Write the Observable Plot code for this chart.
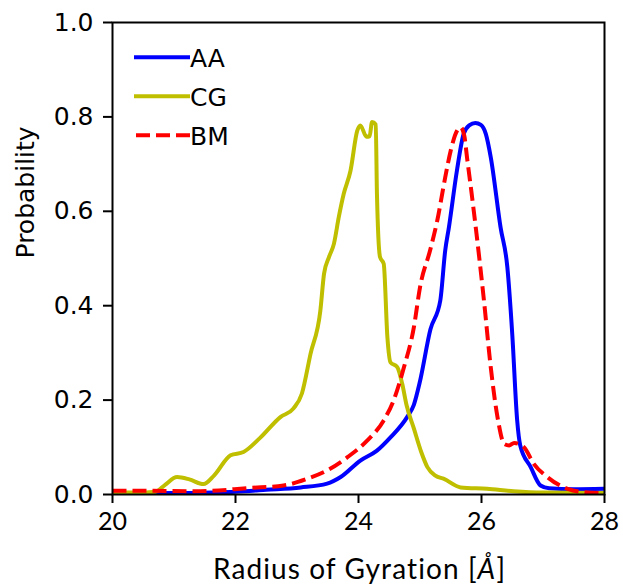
<!DOCTYPE html>
<html>
<head>
<meta charset="utf-8">
<script src="https://cdn.jsdelivr.net/npm/d3@7"></script>
<script src="https://cdn.jsdelivr.net/npm/@observablehq/plot@0.6"></script>
<style>
  html, body { margin: 0; padding: 0; background: white; }
</style>
</head>
<body>
<div id="chart"></div>
<script>
const xTicks = [20, 22, 24, 26, 28];
const yTicks = [0, 0.2, 0.4, 0.6, 0.8, 1.0];
const seriesNames = ["AA", "CG", "BM"];
const seriesColors = ["#0000ff", "#bfbf00", "#ff0000"];
const xLabel = "Radius of Gyration [Å]";
const yLabel = "Probability";

const aaX = [20, 21, 22, 22.5, 23.06, 23.49, 23.71, 24.03, 24.30, 24.52, 24.79, 24.9, 25.0, 25.17, 25.33, 25.41, 25.47, 25.60, 25.71, 25.80, 25.90, 25.99, 26.07, 26.15, 26.31, 26.42, 26.50, 26.58, 26.63, 26.8, 26.96, 27.1, 27.5, 28];
const aaY = [0.002, 0.003, 0.006, 0.01, 0.015, 0.023, 0.037, 0.072, 0.093, 0.121, 0.164, 0.19, 0.24, 0.35, 0.411, 0.517, 0.566, 0.686, 0.764, 0.782, 0.787, 0.783, 0.764, 0.715, 0.566, 0.482, 0.34, 0.157, 0.104, 0.058, 0.019, 0.013, 0.011, 0.012];

const cgX = [20, 20.4, 20.7, 20.85, 21.05, 21.25, 21.48, 21.65, 21.92, 22.13, 22.4, 22.73, 22.94, 23.08, 23.22, 23.38, 23.44, 23.52, 23.60, 23.68, 23.76, 23.87, 23.98, 24.03, 24.13, 24.18, 24.22, 24.28, 24.30, 24.35, 24.41, 24.47, 24.52, 24.63, 24.71, 24.78, 24.9, 25.02, 25.12, 25.25, 25.39, 25.66, 26.09, 26.52, 27, 28];
const cgY = [0.004, 0.004, 0.006, 0.02, 0.037, 0.032, 0.022, 0.04, 0.083, 0.09, 0.12, 0.164, 0.182, 0.214, 0.298, 0.39, 0.468, 0.503, 0.531, 0.588, 0.637, 0.686, 0.771, 0.782, 0.758, 0.759, 0.789, 0.784, 0.637, 0.503, 0.489, 0.333, 0.28, 0.27, 0.235, 0.19, 0.14, 0.09, 0.058, 0.04, 0.033, 0.015, 0.012, 0.007, 0.004, 0.003];

const bmX = [20, 20.5, 21.43, 22.24, 22.78, 23.16, 23.49, 23.82, 24.14, 24.41, 24.57, 24.74, 24.90, 25.0, 25.17, 25.28, 25.41, 25.5, 25.6, 25.66, 25.72, 25.77, 25.82, 25.90, 26.04, 26.15, 26.26, 26.37, 26.45, 26.53, 26.69, 26.85, 27.07, 27.4, 27.6, 28];
const bmY = [0.008, 0.008, 0.007, 0.014, 0.019, 0.033, 0.051, 0.079, 0.114, 0.157, 0.199, 0.27, 0.354, 0.439, 0.52, 0.58, 0.672, 0.729, 0.77, 0.778, 0.76, 0.708, 0.658, 0.573, 0.411, 0.27, 0.164, 0.107, 0.104, 0.109, 0.1, 0.065, 0.037, 0.012, 0.006, 0.003];

const toRows = (xs, ys) => xs.map((x, i) => ({x, y: ys[i]}));
const aaRows = toRows(aaX, aaY);
const cgRows = toRows(cgX, cgY);
const bmRows = toRows(bmX, bmY);

const LW = 4;
const DASH = "14,6";

const chart = Plot.plot({
  width: 623,
  height: 586,
  marginLeft: 112,
  marginRight: 19,
  marginTop: 22,
  marginBottom: 92,
  style: {background: "white", fontFamily: "DejaVu Sans", fontSize: "25px", color: "black"},
  x: {domain: [20, 28]},
  y: {domain: [0, 1]},
  marks: [
    Plot.line(aaRows, {x: "x", y: "y", stroke: seriesColors[0], strokeWidth: LW, curve: "monotone-x", clip: true}),
    Plot.line(cgRows, {x: "x", y: "y", stroke: seriesColors[1], strokeWidth: LW, curve: "monotone-x", clip: true}),
    Plot.line(bmRows, {x: "x", y: "y", stroke: seriesColors[2], strokeWidth: LW, strokeDasharray: DASH, strokeLinecap: "butt", curve: "monotone-x", clip: true}),
    Plot.frame({stroke: "black", strokeWidth: 2}),
    Plot.axisY({ticks: yTicks, tickFormat: d3.format(".1f"), tickSize: 9, tickPadding: 10, fontSize: 25, fontFamily: "DejaVu Sans", label: null, strokeWidth: 2}),
    Plot.axisX({ticks: xTicks, tickFormat: d3.format("d"), tickSize: 9, tickPadding: 9, fontSize: 25, fontFamily: "Lato", label: null, strokeWidth: 2}),
    Plot.text([yLabel], {text: d => d, frameAnchor: "left", dx: -87, rotate: -90, fontSize: 25, fontFamily: "DejaVu Sans", fill: "black"}),
    Plot.text([xLabel], {text: d => d, frameAnchor: "bottom", dx: 1, dy: 76, lineAnchor: "middle", fontSize: 28, fontFamily: "Lato", fill: "black"})
  ]
});

document.getElementById("chart").appendChild(chart);

// italic Å in x label
const svg = d3.select(chart);
svg.selectAll("text").filter(function() { return this.textContent === xLabel; }).each(function() {
  const t = d3.select(this);
  t.attr("letter-spacing", "1.1px");
  t.text(null);
  t.append("tspan").text("Radius of Gyration [");
  t.append("tspan").attr("font-style", "italic").text("Å");
  t.append("tspan").text("]");
});

// legend
const leg = svg.append("g").attr("font-family", "DejaVu Sans").attr("font-size", 25).attr("text-anchor", "start");
seriesNames.forEach((name, i) => {
  const y = 57.3 + i * 39;
  leg.append("line")
    .attr("x1", i === 2 ? 136 : 134).attr("x2", 190)
    .attr("y1", y).attr("y2", y)
    .attr("stroke", seriesColors[i]).attr("stroke-width", LW)
    .attr("stroke-dasharray", i === 2 ? DASH : null);
  leg.append("text").attr("x", 190).attr("y", y + 9.3).attr("fill", "black").attr("text-anchor", "start").text(name);
});
</script>
</body>
</html>
